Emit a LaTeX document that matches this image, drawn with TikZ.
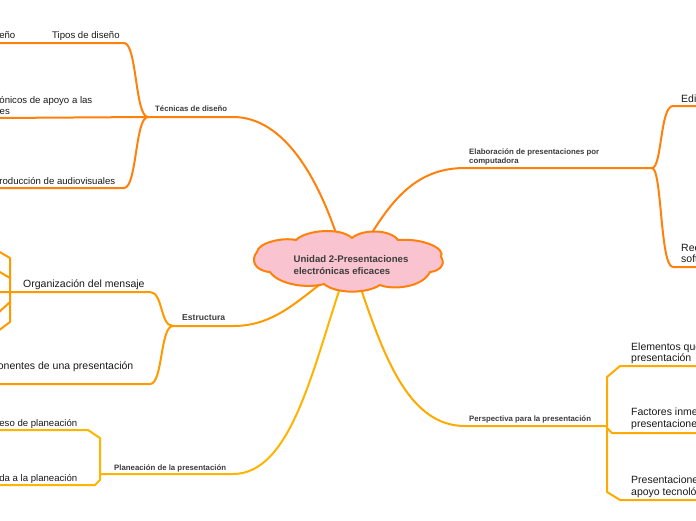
\documentclass[tikz,border=0pt]{standalone}
\usepackage{fontspec}
\setmainfont{Liberation Sans}
\definecolor{orA}{RGB}{255,128,10}
\definecolor{orB}{RGB}{255,153,0}
\definecolor{orC}{RGB}{255,180,0}
\definecolor{orD}{RGB}{255,170,0}
\definecolor{cloudfill}{RGB}{249,196,208}
\definecolor{lbl}{RGB}{60,60,60}
\definecolor{leaf}{RGB}{25,25,25}
\tikzset{
  conn/.style={line width=2pt, line cap=round, line join=round},
  brlabel/.style={inner sep=0pt, text=lbl, font=\fontsize{7.8}{8}\selectfont\bfseries},
  leaftext/.style={inner sep=0pt, text=leaf, font=\fontsize{9.6}{11}\selectfont},
  bigleaf/.style={inner sep=0pt, text=leaf, font=\fontsize{10.5}{12}\selectfont},
  centertext/.style={inner sep=0pt, text=lbl, font=\fontsize{9.6}{11}\selectfont\bfseries},
}
\begin{document}
\begin{tikzpicture}[x=1pt,y=-1pt]
\useasboundingbox (0,0) rectangle (696,520);
\clip (0,0) rectangle (696,520);

% junction coordinates
\coordinate (jT) at (148,117);
\coordinate (jE) at (173,326);
\coordinate (jP) at (100,474);
\coordinate (jC) at (652,168);
\coordinate (jR) at (607,426);

% cloud anchor points for connectors
\coordinate (cT) at (337,236);
\coordinate (cC) at (370,236);
\coordinate (cE) at (323,282);
\coordinate (cP) at (340,288);
\coordinate (cR) at (360,286);

% ---------- Técnicas de diseño ----------
\draw[conn, orA] (cT) .. controls (318,180) and (285,117) .. (233,117) -- (jT);
\draw[conn, orA] (jT) .. controls (135,117) and (137,43) .. (124,43) -- (-2,43);
\draw[conn, orA] (jT) -- (-2,118);
\draw[conn, orA] (jT) .. controls (135,117) and (137,188) .. (124,188) -- (-2,188);

\node[brlabel, anchor=base west] (tec) at (155,111.5) {Técnicas de diseño};
\node[leaftext, anchor=base west] (tipos) at (52,38) {Tipos de diseño};
\node[leaftext, anchor=base east] (eno) at (15.5,38) {eño};
\node[leaftext, anchor=base east] (med1) at (92.5,103.5) {rónicos de apoyo a las};
\node[leaftext, anchor=base west] (med2) at (-0.5,114.5) {es};
\node[leaftext, anchor=base west] (prod) at (-0.8,184.5) {roducción de audiovisuales};

% ---------- Estructura ----------
\draw[conn, orB] (cE) .. controls (292,306) and (270,326) .. (233,326) -- (jE);
\draw[conn, orB] (jE) .. controls (160,326) and (163,292) .. (150,292) -- (-2,292);
\draw[conn, orB] (jE) .. controls (160,326) and (163,384) .. (150,384) -- (-2,384);
\draw[conn, orB] (-2,251) -- (10,258) -- (10,322) -- (-2,331);
\draw[conn, orB] (-2,271) -- (10,278);
\draw[conn, orB] (10,302) -- (-2,313);

\node[brlabel, font=\fontsize{8.6}{9}\selectfont\bfseries, anchor=base west] (est) at (182,320) {Estructura};
\node[bigleaf, anchor=base west] (org) at (23,287) {Organización del mensaje};
\node[bigleaf, anchor=base east] (comp) at (133.5,369) {ponentes de una presentación};

% ---------- Planeación ----------
\draw[conn, orC] (cP) .. controls (312,372) and (290,474) .. (233,474) -- (jP);
\draw[conn, orC] (jP) -- (100,438) -- (88,430) -- (-2,430);
\draw[conn, orC] (jP) -- (100,480) -- (95,485) -- (-2,485);

\node[brlabel, anchor=base west] (plan) at (114,470.5) {Planeación de la presentación};
\node[leaftext, anchor=base east] (proc) at (77.5,426.5) {eso de planeación};
\node[leaftext, anchor=base east] (ayuda) at (77.5,481.5) {da a la planeación};

% ---------- Elaboración ----------
\draw[conn, orA] (cC) .. controls (395,195) and (420,168) .. (465,168) -- (jC);
\draw[conn, orA] (jC) .. controls (662,168) and (660,106) .. (673,106) -- (698,106);
\draw[conn, orA] (jC) .. controls (662,168) and (660,267) .. (673,267) -- (698,267);

\node[brlabel, anchor=base west] (ela1) at (469,154.5) {Elaboración de presentaciones por};
\node[brlabel, anchor=base west] (ela2) at (469,163.5) {computadora};
\node[bigleaf, anchor=base west] (edic) at (681,102) {Edic};
\node[bigleaf, anchor=base west] (rec1) at (681,251) {Rec};
\node[bigleaf, anchor=base west] (rec2) at (681,262.3) {softw};

% ---------- Perspectiva ----------
\draw[conn, orD] (cR) .. controls (385,360) and (410,426) .. (465,426) -- (jR);
\draw[conn, orD] (jR) -- (607,377) -- (620,366) -- (698,366);
\draw[conn, orD] (jR) -- (607,492) -- (620,500) -- (698,500);
\draw[conn, orD] (607,428) -- (612,433) -- (698,433);

\node[brlabel, anchor=base west] (persp) at (469,421.5) {Perspectiva para la presentación};
\node[bigleaf, anchor=base west] (el1) at (631,350) {Elementos que};
\node[bigleaf, anchor=base west] (el2) at (631,361.7) {presentación};
\node[bigleaf, anchor=base west] (fa1) at (631,415.7) {Factores inme};
\node[bigleaf, anchor=base west] (fa2) at (631,427.3) {presentacione};
\node[bigleaf, anchor=base west] (pr1) at (631,483.3) {Presentacione};
\node[bigleaf, anchor=base west] (pr2) at (631,495) {apoyo tecnoló};

% ---------- Central cloud ----------
\draw[line width=2pt, draw=orA, fill=cloudfill, line join=round]
  (257,252) .. controls (258,243) and (282,237) .. (296,240)
  .. controls (306,230) and (340,227) .. (352,238)
  .. controls (362,229) and (390,229) .. (398,240)
  .. controls (422,238) and (446,248) .. (441,257)
  .. controls (446,264) and (440,271) .. (430,272)
  .. controls (422,288) and (392,290) .. (380,285)
  .. controls (366,294) and (336,294) .. (324,284)
  .. controls (306,289) and (278,284) .. (270,272)
  .. controls (255,271) and (250,260) .. (257,252) -- cycle;

\node[centertext, anchor=base west] (c1) at (293.5,262) {Unidad 2-Presentaciones};
\node[centertext, anchor=base west] (c2) at (293.5,274) {electrónicas eficaces};
\end{tikzpicture}
\end{document}
